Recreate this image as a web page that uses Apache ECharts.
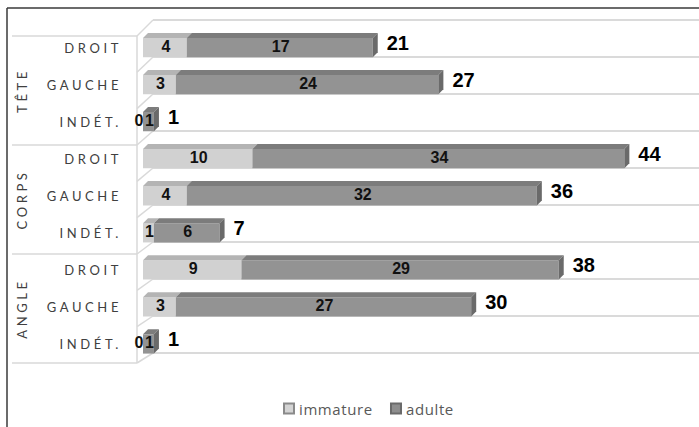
<!DOCTYPE html>
<html><head><meta charset="utf-8">
<script src="https://cdn.jsdelivr.net/npm/echarts@6/dist/echarts.min.js"></script>
<style>
html,body{margin:0;padding:0;background:#fff;}
#c{width:699px;height:427px;}
text[style*="Lato"]{letter-spacing:3.6px;}
text[style*="Open Sans"]{letter-spacing:0.6px;}
</style></head><body><div id="c"></div>
<script>
// ---- data ----
const groups = ['TÊTE', 'CORPS', 'ANGLE'];
const categories = ['DROIT', 'GAUCHE', 'INDÉT.', 'DROIT', 'GAUCHE', 'INDÉT.', 'DROIT', 'GAUCHE', 'INDÉT.'];
const immature = [4, 3, 0, 10, 4, 1, 9, 3, 0];
const adulte = [17, 24, 1, 34, 32, 6, 29, 27, 1];
const totals = [21, 27, 1, 44, 36, 7, 38, 30, 1];
const seriesNames = ['immature', 'adulte'];
const xMax = 50;

// ---- styling / layout ----
const COL = {
  imm: { front: '#d1d1d1', top: '#b4b4b4', side: '#9a9a9a', legend: '#d4d4d4', border: '#8a8a8a' },
  adu: { front: '#939393', top: '#7c7c7c', side: '#6a6a6a', legend: '#8e8e8e', border: '#6a6a6a' }
};
const WALL = { left: 153, top: 20, height: 333 };
const FRONT = { x: 137, top: 36, height: 327, tableLeft: 12 };
const DEPTH = 5;

const immData = immature.map((v, i) => [i, 0, v, v, totals[i]]);
const aduData = adulte.map((v, i) => [i, immature[i], immature[i] + v, v, totals[i]]);

function makeRender(c, isLast) {
  return function (params, api) {
    const cat = api.value(0), s = api.value(1), e = api.value(2), v = api.value(3), tot = api.value(4);
    const p0 = api.coord([s, cat]), p1 = api.coord([e, cat]);
    const band = api.size([0, 1])[1];
    const h = band * 0.52, d = DEPTH;
    const x0 = p0[0], x1 = p1[0], yc = p0[1], yt = yc - h / 2, yb = yc + h / 2;
    const children = [];
    if (x1 - x0 > 0.5) {
      children.push({ type: 'rect', shape: { x: x0, y: yt, width: x1 - x0, height: h }, style: { fill: c.front } });
      children.push({ type: 'polygon', shape: { points: [[x0, yt], [x1, yt], [x1 + d, yt - d], [x0 + d, yt - d]] }, style: { fill: c.top } });
      if (isLast) {
        children.push({ type: 'polygon', shape: { points: [[x1, yt], [x1 + d, yt - d], [x1 + d, yb - d], [x1, yb]] }, style: { fill: c.side } });
      }
    }
    const zero = v === 0;
    children.push({
      type: 'text', x: zero ? x0 + 0.5 : (x0 + x1) / 2 + 1, y: yc - 1,
      style: { text: String(v), fill: '#111', font: 'bold 16px "Liberation Sans", Arial, sans-serif',
        align: zero ? 'right' : 'center', verticalAlign: 'middle' }
    });
    if (isLast) {
      children.push({
        type: 'text', x: x1 + 14, y: yc - 4.5,
        style: { text: String(tot), fill: '#000', font: 'bold 20px "Liberation Sans", Arial, sans-serif',
          align: 'left', verticalAlign: 'middle' }
      });
    }
    return { type: 'group', children };
  };
}

const graphics = [];
// chart border (top & left visible)
graphics.push({ type: 'line', shape: { x1: 7, y1: 8, x2: 699, y2: 8 }, style: { stroke: '#3a3a3a', lineWidth: 1.5 }, silent: true });
graphics.push({ type: 'line', shape: { x1: 7, y1: 8, x2: 7, y2: 427 }, style: { stroke: '#3a3a3a', lineWidth: 1.5 }, silent: true });
// left floor of the 3D plot
graphics.push({ type: 'line', shape: { x1: FRONT.x, y1: FRONT.top, x2: FRONT.x, y2: FRONT.top + FRONT.height }, style: { stroke: '#d9d9d9', lineWidth: 1.5 }, silent: true });
for (let k = 0; k <= categories.length; k++) {
  graphics.push({ type: 'line', shape: {
      x1: FRONT.x, y1: FRONT.top + FRONT.height * k / categories.length,
      x2: WALL.left, y2: WALL.top + WALL.height * k / categories.length },
    style: { stroke: '#d9d9d9', lineWidth: 1.5 }, silent: true });
}

const chart = echarts.init(document.getElementById('c'), null, { renderer: 'svg' });
chart.setOption({
  animation: false,
  backgroundColor: '#fff',
  grid: [
    { left: 143, width: 547, top: 29, height: 333.5 },
    { left: WALL.left, right: 0, top: WALL.top, height: WALL.height },
    { left: FRONT.tableLeft, width: FRONT.x - FRONT.tableLeft, top: FRONT.top, height: FRONT.height }
  ],
  xAxis: [
    { gridIndex: 0, type: 'value', min: 0, max: xMax, show: false },
    { gridIndex: 1, type: 'value', min: 0, max: xMax, show: false },
    { gridIndex: 2, type: 'value', min: 0, max: 1, show: false }
  ],
  yAxis: [
    { gridIndex: 0, type: 'category', data: categories, inverse: true,
      axisLine: { show: false }, axisTick: { show: false }, splitLine: { show: false },
      axisLabel: { fontFamily: 'Lato', fontSize: 13, color: '#404040', margin: 21 } },
    { gridIndex: 1, type: 'category', data: categories, inverse: true,
      axisLine: { show: false }, axisTick: { show: false }, axisLabel: { show: false },
      splitLine: { show: true, lineStyle: { color: '#dadada', width: 2 } } },
    { gridIndex: 2, type: 'category', data: groups, inverse: true, offset: -20,
      axisLine: { show: false }, axisTick: { show: false },
      axisLabel: { rotate: 90, fontFamily: 'Lato', fontSize: 13, color: '#404040', margin: 3.5 },
      splitLine: { show: true, lineStyle: { color: '#d9d9d9', width: 1.5 } } }
  ],
  legend: {
    data: seriesNames, left: 283, top: 401, padding: 0, itemWidth: 10, itemHeight: 10, itemGap: 22,
    icon: 'rect', textStyle: { fontFamily: 'Open Sans', fontSize: 15, color: '#595959' }
  },
  graphic: graphics,
  series: [
    { name: seriesNames[0], type: 'custom', xAxisIndex: 0, yAxisIndex: 0, data: immData,
      encode: { x: [1, 2], y: 0 }, renderItem: makeRender(COL.imm, false),
      itemStyle: { color: COL.imm.legend, borderColor: COL.imm.border, borderWidth: 1 } },
    { name: seriesNames[1], type: 'custom', xAxisIndex: 0, yAxisIndex: 0, data: aduData,
      encode: { x: [1, 2], y: 0 }, renderItem: makeRender(COL.adu, true),
      itemStyle: { color: COL.adu.legend, borderColor: COL.adu.border, borderWidth: 1 } }
  ]
});
</script></body></html>
